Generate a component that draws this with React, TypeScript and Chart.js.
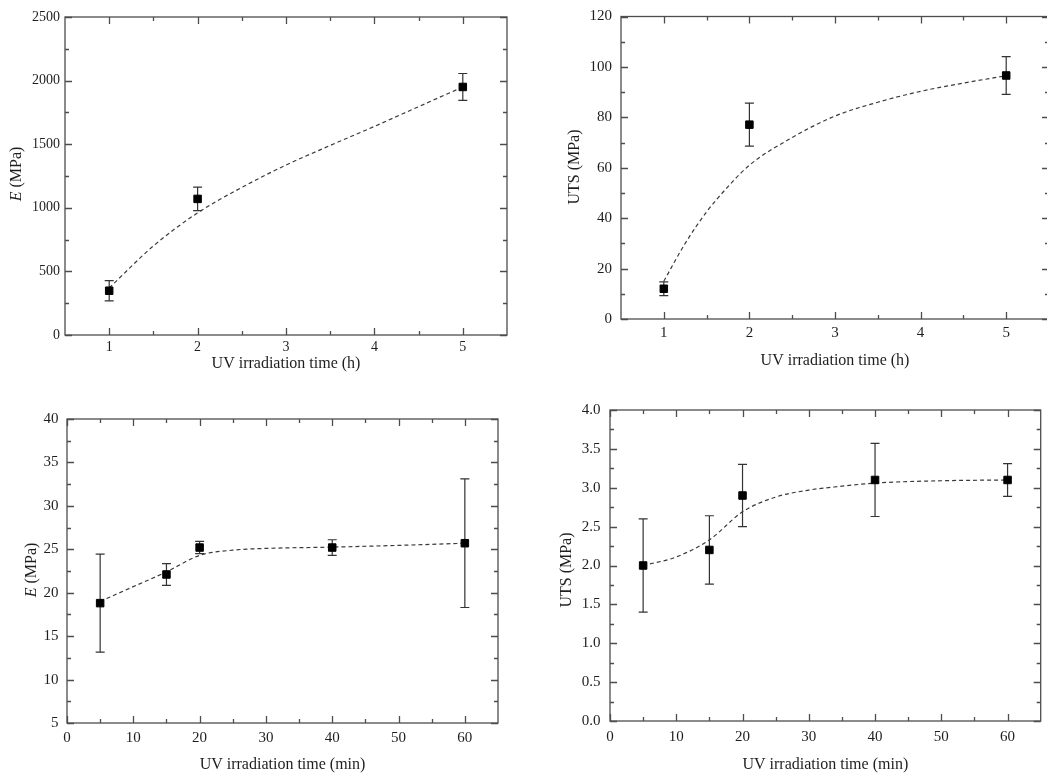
import React, { useEffect, useRef } from 'react';
import { Chart, registerables } from 'chart.js';

Chart.register(...registerables);

// ---------- Data ----------
// Panel A: E vs UV irradiation time (h)
const hoursX = [1, 2, 5];
const eHoursY = [348, 1070, 1950];
const eHoursErr = [80, 92, 106];
const eHoursFitX = [1, 1.5, 2, 2.5, 3, 3.5, 4, 4.5, 5];
const eHoursFitY = [370, 700, 960, 1160, 1336, 1490, 1640, 1795, 1950];

// Panel B: UTS vs UV irradiation time (h)
const utsHoursY = [12.0, 77.1, 96.6];
const utsHoursErr = [2.7, 8.5, 7.5];
const utsHoursFitX = [1, 1.25, 1.5, 1.75, 2, 2.5, 3, 3.5, 4, 4.5, 5];
const utsHoursFitY = [15, 30, 42.5, 52.5, 61, 72, 80.5, 86, 90.3, 93.6, 96.5];

// Panel C: E vs UV irradiation time (min)
const minutesX = [5, 15, 20, 40, 60];
const eMinY = [18.8, 22.1, 25.2, 25.2, 25.7];
const eMinErr = [5.65, 1.25, 0.7, 0.9, 7.4];
const eMinFitX = [5, 10, 15, 20, 25, 30, 40, 50, 60];
const eMinFitY = [19.0, 20.7, 22.4, 24.3, 24.9, 25.1, 25.25, 25.45, 25.7];

// Panel D: UTS vs UV irradiation time (min)
const utsMinY = [2.0, 2.2, 2.9, 3.1, 3.1];
const utsMinErr = [0.6, 0.44, 0.4, 0.47, 0.21];
const utsMinFitX = [5, 10, 15, 20, 25, 30, 35, 40, 50, 60];
const utsMinFitY = [2.0, 2.11, 2.33, 2.69, 2.88, 2.97, 3.02, 3.06, 3.09, 3.1];

// Tick values
const hourTicks = [1, 2, 3, 4, 5];
const hourMinor = [1.5, 2.5, 3.5, 4.5];
const minuteTicks = [0, 10, 20, 30, 40, 50, 60];
const minuteMinor = [5, 15, 25, 35, 45, 55];
const eHoursTicks = [0, 500, 1000, 1500, 2000, 2500];
const eHoursMinor = [250, 750, 1250, 1750, 2250];
const utsHoursTicks = [0, 20, 40, 60, 80, 100, 120];
const utsHoursMinor = [10, 30, 50, 70, 90, 110];
const eMinTicks = [5, 10, 15, 20, 25, 30, 35, 40];
const eMinMinor = [7.5, 12.5, 17.5, 22.5, 27.5, 32.5, 37.5];
const utsMinTicks = [0, 0.5, 1, 1.5, 2, 2.5, 3, 3.5, 4];
const utsMinMinor = [0.25, 0.75, 1.25, 1.75, 2.25, 2.75, 3.25, 3.75];

const xTitleHours = 'UV irradiation time (h)';
const xTitleMinutes = 'UV irradiation time (min)';
const yTitleE = [{ t: 'E', italic: true }, { t: ' (MPa)', italic: false }];
const yTitleUTS = [{ t: 'UTS (MPa)', italic: false }];

// ---------- Styling ----------
const FONT = "'Liberation Serif', 'Times New Roman', serif";
const TEXT = '#1e1e1e';
const AXIS = '#4d4d4d';
const CURVE = '#3a3a3a';

type Seg = { t: string; italic: boolean };
type Panel = {
  canvas: { left: number; top: number; width: number; height: number };
  plot: { L: number; T: number; R: number; B: number };
  xMin: number; xMax: number; yMin: number; yMax: number;
  xTicks: number[]; xMinor: number[]; yTicks: number[]; yMinor: number[];
  yDecimals: number;
  x: number[]; y: number[]; err: number[]; fitX: number[]; fitY: number[];
  xTitle: string; yTitle: Seg[];
  tickSize: number; xTickPad: number; yTickPad: number; xTitlePad: number;
  yTitlePos: { x: number; y: number };
};

const panels: Panel[] = [
  {
    canvas: { left: 0, top: 0, width: 520, height: 380 },
    plot: { L: 65, T: 17, R: 507, B: 335 },
    xMin: 0.5, xMax: 5.5, yMin: 0, yMax: 2500,
    xTicks: hourTicks, xMinor: hourMinor, yTicks: eHoursTicks, yMinor: eHoursMinor,
    yDecimals: 0,
    x: hoursX, y: eHoursY, err: eHoursErr, fitX: eHoursFitX, fitY: eHoursFitY,
    xTitle: xTitleHours, yTitle: yTitleE,
    tickSize: 14, xTickPad: 5, yTickPad: 5, xTitlePad: 8,
    yTitlePos: { x: 17, y: 174 },
  },
  {
    canvas: { left: 520, top: 0, width: 540, height: 380 },
    plot: { L: 621, T: 13, R: 1049, B: 319 },
    xMin: 0.5, xMax: 5.5, yMin: 0, yMax: 120,
    xTicks: hourTicks, xMinor: hourMinor, yTicks: utsHoursTicks, yMinor: utsHoursMinor,
    yDecimals: 0,
    x: hoursX, y: utsHoursY, err: utsHoursErr, fitX: utsHoursFitX, fitY: utsHoursFitY,
    xTitle: xTitleHours, yTitle: yTitleUTS,
    tickSize: 15, xTickPad: 6.5, yTickPad: 9, xTitlePad: 11,
    yTitlePos: { x: 55, y: 167 },
  },
  {
    canvas: { left: 0, top: 380, width: 520, height: 394 },
    plot: { L: 67, T: 419, R: 498, B: 723 },
    xMin: 0, xMax: 65, yMin: 5, yMax: 40,
    xTicks: minuteTicks, xMinor: minuteMinor, yTicks: eMinTicks, yMinor: eMinMinor,
    yDecimals: 0,
    x: minutesX, y: eMinY, err: eMinErr, fitX: eMinFitX, fitY: eMinFitY,
    xTitle: xTitleMinutes, yTitle: yTitleE,
    tickSize: 15, xTickPad: 8, yTickPad: 8.5, xTitlePad: 1,
    yTitlePos: { x: 32, y: 190 },
  },
  {
    canvas: { left: 520, top: 380, width: 527, height: 394 },
    plot: { L: 610, T: 410, R: 1041, B: 721 },
    xMin: 0, xMax: 65, yMin: 0, yMax: 4,
    xTicks: minuteTicks, xMinor: minuteMinor, yTicks: utsMinTicks, yMinor: utsMinMinor,
    yDecimals: 1,
    x: minutesX, y: utsMinY, err: utsMinErr, fitX: utsMinFitX, fitY: utsMinFitY,
    xTitle: xTitleMinutes, yTitle: yTitleUTS,
    tickSize: 15, xTickPad: 9, yTickPad: 9.5, xTitlePad: 1,
    yTitlePos: { x: 47, y: 190 },
  },
];

function makePlugins(p: Panel) {
  const errorBars = {
    id: 'errorBars',
    beforeDatasetsDraw(chart: any) {
      const { ctx } = chart;
      const xs = chart.scales.x;
      const ys = chart.scales.y;
      ctx.save();
      ctx.strokeStyle = '#333333';
      ctx.lineWidth = 1.2;
      p.x.forEach((xv, i) => {
        const px = xs.getPixelForValue(xv);
        const top = ys.getPixelForValue(p.y[i] + p.err[i]);
        const bot = ys.getPixelForValue(p.y[i] - p.err[i]);
        ctx.beginPath();
        ctx.moveTo(px, top);
        ctx.lineTo(px, bot);
        ctx.moveTo(px - 4.5, top);
        ctx.lineTo(px + 4.5, top);
        ctx.moveTo(px - 4.5, bot);
        ctx.lineTo(px + 4.5, bot);
        ctx.stroke();
      });
      ctx.restore();
    },
  };

  const frame = {
    id: 'frame',
    afterDraw(chart: any) {
      const { ctx, chartArea: a } = chart;
      const xs = chart.scales.x;
      const ys = chart.scales.y;
      ctx.save();
      ctx.strokeStyle = AXIS;
      ctx.lineWidth = 1.3;
      const tick = (vals: number[], len: number, horiz: boolean) => {
        vals.forEach((v) => {
          ctx.beginPath();
          if (horiz) {
            const px = Math.round(xs.getPixelForValue(v)) + 0.5;
            ctx.moveTo(px, a.bottom);
            ctx.lineTo(px, a.bottom - len);
            ctx.moveTo(px, a.top);
            ctx.lineTo(px, a.top + len);
          } else {
            const py = Math.round(ys.getPixelForValue(v)) + 0.5;
            ctx.moveTo(a.left, py);
            ctx.lineTo(a.left + len, py);
            ctx.moveTo(a.right, py);
            ctx.lineTo(a.right - len, py);
          }
          ctx.stroke();
        });
      };
      tick(p.xTicks, 7, true);
      tick(p.xMinor, 4, true);
      tick(p.yTicks, 7, false);
      tick(p.yMinor, 4, false);
      ctx.strokeRect(a.left, a.top, a.right - a.left, a.bottom - a.top);
      ctx.restore();
    },
  };

  const yTitle = {
    id: 'yTitle',
    afterDraw(chart: any) {
      const { ctx } = chart;
      ctx.save();
      ctx.translate(p.yTitlePos.x, p.yTitlePos.y);
      ctx.rotate(-Math.PI / 2);
      ctx.fillStyle = TEXT;
      ctx.textBaseline = 'middle';
      ctx.textAlign = 'left';
      const fontOf = (s: Seg) => `${s.italic ? 'italic ' : ''}16px ${FONT}`;
      let total = 0;
      p.yTitle.forEach((s) => {
        ctx.font = fontOf(s);
        total += ctx.measureText(s.t).width;
      });
      let x = -total / 2;
      p.yTitle.forEach((s) => {
        ctx.font = fontOf(s);
        ctx.fillText(s.t, x, 0);
        x += ctx.measureText(s.t).width;
      });
      ctx.restore();
    },
  };

  return [errorBars, frame, yTitle];
}

function PanelChart({ p }: { p: Panel }) {
  const ref = useRef<HTMLCanvasElement | null>(null);
  useEffect(() => {
    if (!ref.current) return;
    const yW = p.plot.L - p.canvas.left;
    const xH = p.canvas.top + p.canvas.height - p.plot.B;
    const chart = new Chart(ref.current, {
      type: 'scatter',
      data: {
        datasets: [
          {
            type: 'line',
            data: p.fitX.map((x, i) => ({ x, y: p.fitY[i] })),
            borderColor: CURVE,
            borderWidth: 1.2,
            borderDash: [4, 3],
            pointRadius: 0,
            fill: false,
            cubicInterpolationMode: 'monotone',
            order: 2,
          } as any,
          {
            type: 'scatter',
            data: p.x.map((x, i) => ({ x, y: p.y[i] })),
            pointStyle: 'rect',
            pointRadius: 5.3,
            backgroundColor: '#000000',
            borderColor: '#000000',
            borderWidth: 1,
            order: 1,
          } as any,
        ],
      },
      options: {
        responsive: false,
        animation: false,
        events: [],
        layout: {
          padding: {
            top: p.plot.T - p.canvas.top,
            right: p.canvas.left + p.canvas.width - p.plot.R,
            left: 0,
            bottom: 0,
          },
        },
        plugins: { legend: { display: false }, tooltip: { enabled: false } },
        scales: {
          x: {
            type: 'linear',
            min: p.xMin,
            max: p.xMax,
            grid: { display: false, drawTicks: false },
            border: { display: false },
            afterBuildTicks: (s: any) => {
              s.ticks = p.xTicks.map((v) => ({ value: v }));
            },
            afterFit: (s: any) => {
              s.height = xH;
            },
            ticks: {
              padding: p.xTickPad,
              color: TEXT,
              font: { family: FONT, size: p.tickSize, lineHeight: 1 },
              maxRotation: 0,
              autoSkip: false,
              callback: (v: any) => String(v),
            },
            title: {
              display: true,
              text: p.xTitle,
              color: TEXT,
              font: { family: FONT, size: 16, lineHeight: 1 },
              padding: { top: 0, bottom: p.xTitlePad },
            },
          },
          y: {
            type: 'linear',
            min: p.yMin,
            max: p.yMax,
            grid: { display: false, drawTicks: false },
            border: { display: false },
            afterBuildTicks: (s: any) => {
              s.ticks = p.yTicks.map((v) => ({ value: v }));
            },
            afterFit: (s: any) => {
              s.width = yW;
            },
            ticks: {
              padding: p.yTickPad,
              color: TEXT,
              font: { family: FONT, size: p.tickSize, lineHeight: 1 },
              autoSkip: false,
              callback: (v: any) => Number(v).toFixed(p.yDecimals),
            },
            title: { display: false },
          },
        },
      } as any,
      plugins: makePlugins(p) as any,
    });
    return () => chart.destroy();
  }, [p]);
  return (
    <canvas
      ref={ref}
      width={p.canvas.width}
      height={p.canvas.height}
      style={{
        position: 'absolute',
        left: p.canvas.left,
        top: p.canvas.top,
        width: p.canvas.width,
        height: p.canvas.height,
      }}
    />
  );
}

export default function App() {
  return (
    <div
      style={{
        position: 'absolute',
        left: 0,
        top: 0,
        width: 1047,
        height: 774,
        overflow: 'hidden',
        background: '#ffffff',
      }}
    >
      {panels.map((p, i) => (
        <PanelChart key={i} p={p} />
      ))}
    </div>
  );
}
